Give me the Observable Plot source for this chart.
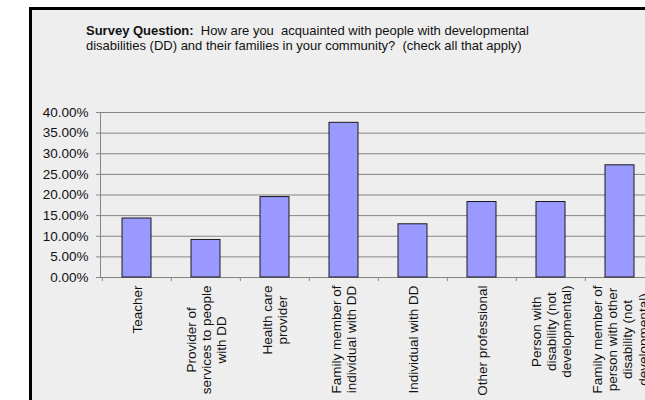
<!DOCTYPE html>
<html>
<head>
<meta charset="utf-8">
<script src="https://cdn.jsdelivr.net/npm/d3@7"></script>
<script src="https://cdn.jsdelivr.net/npm/@observablehq/plot@0.6"></script>
<style>
  html, body { margin: 0; padding: 0; background: #ffffff; }
  body { width: 645px; height: 400px; overflow: hidden; position: relative; font-family: "Liberation Sans", Arial, sans-serif; }
  #frame { position: absolute; left: 29px; top: 7px; width: 720px; height: 520px; box-sizing: border-box;
           border-left: 3.5px solid #000; border-top: 3px solid #000; background: #eeeeee; }
  #title { position: absolute; left: 86px; top: 24px; font-size: 13px; line-height: 14.5px; color: #111; white-space: nowrap; }
  #chart { position: absolute; left: 33px; top: 60px; width: 700px; }
  #chart svg { max-width: none !important; }
</style>
</head>
<body>
<div id="frame"></div>
<div id="title"><b>Survey Question:</b>&nbsp; How are you&nbsp; acquainted with people with developmental<br>disabilities (DD) and their families in your community?&nbsp; (check all that apply)</div>
<div id="chart"></div>
<script>
// ---- data ----
const categories = [
  "Teacher",
  "Provider of\nservices to people\nwith DD",
  "Health care\nprovider",
  "Family member of\nindividual with DD",
  "Individual with DD",
  "Other professional",
  "Person with\ndisability (not\ndevelopmental)",
  "Family member of\nperson with other\ndisability (not\ndevelopmental)"
];
const values = [0.143, 0.091, 0.195, 0.375, 0.129, 0.183, 0.183, 0.272];
const yTicks = [0, 0.05, 0.10, 0.15, 0.20, 0.25, 0.30, 0.35, 0.40];

const data = categories.map((c, i) => ({cat: c, value: values[i]}));

// ---- layout ----
const marginLeft = 67, marginRight = 10, marginTop = 52, marginBottom = 130;
const plotW = 555, plotH = 165;
const width = marginLeft + plotW + marginRight;
const height = marginTop + plotH + marginBottom;
const step = plotW / categories.length;
const pad = 0.585;

const chart = Plot.plot({
  width, height, marginLeft, marginRight, marginTop, marginBottom,
  style: {fontFamily: "'Liberation Sans', Arial, sans-serif", fontSize: "13.5px", background: "transparent", color: "#111", maxWidth: "none"},
  x: {domain: categories, paddingInner: pad, paddingOuter: pad / 2, label: null},
  y: {domain: [0, 0.4], label: null},
  marks: [
    Plot.gridY(yTicks, {stroke: "#858585", strokeOpacity: 1}),
    Plot.frame({anchor: "left", stroke: "#858585"}),
    Plot.axisY(yTicks, {tickFormat: d3.format(".2%"), tickSize: 4, tickPadding: 8, stroke: "#858585", fill: "#111", label: null, fontSize: 13.5}),
    // boundary tick marks between categories
    Plot.axisX({tickSize: 4, tickFormat: () => "", dx: -step / 2, stroke: "#858585", label: null}),
    // category labels
    Plot.axisX({tickSize: 0, tickPadding: 8, tickRotate: -90, textAnchor: "middle", lineHeight: 1.12, fontSize: 13.5, fill: "#111", label: null}),
    Plot.barY(data, {x: "cat", y: "value", fill: "#9999ff", stroke: "#1a1a1a", strokeWidth: 1})
  ]
});
document.getElementById("chart").appendChild(chart);

// Align rotated multi-line labels: block top at the axis, lines centred within block
const texts = [...chart.querySelectorAll('g[aria-label="x-axis tick label"] text')].filter(t => t.textContent.trim());
for (const t of texts) {
  const spans = t.querySelectorAll("tspan");
  const lens = spans.length ? [...spans].map(s => s.getComputedTextLength()) : [t.getComputedTextLength()];
  const L = Math.max(...lens);
  const tr = t.getAttribute("transform") || "";
  const m = /translate\(([-\d.e]+)\s*,?\s*([-\d.e]+)\)/.exec(tr);
  if (m) t.setAttribute("transform", `translate(${m[1]},${parseFloat(m[2]) + L / 2}) rotate(-90)`);
}
</script>
</body>
</html>
